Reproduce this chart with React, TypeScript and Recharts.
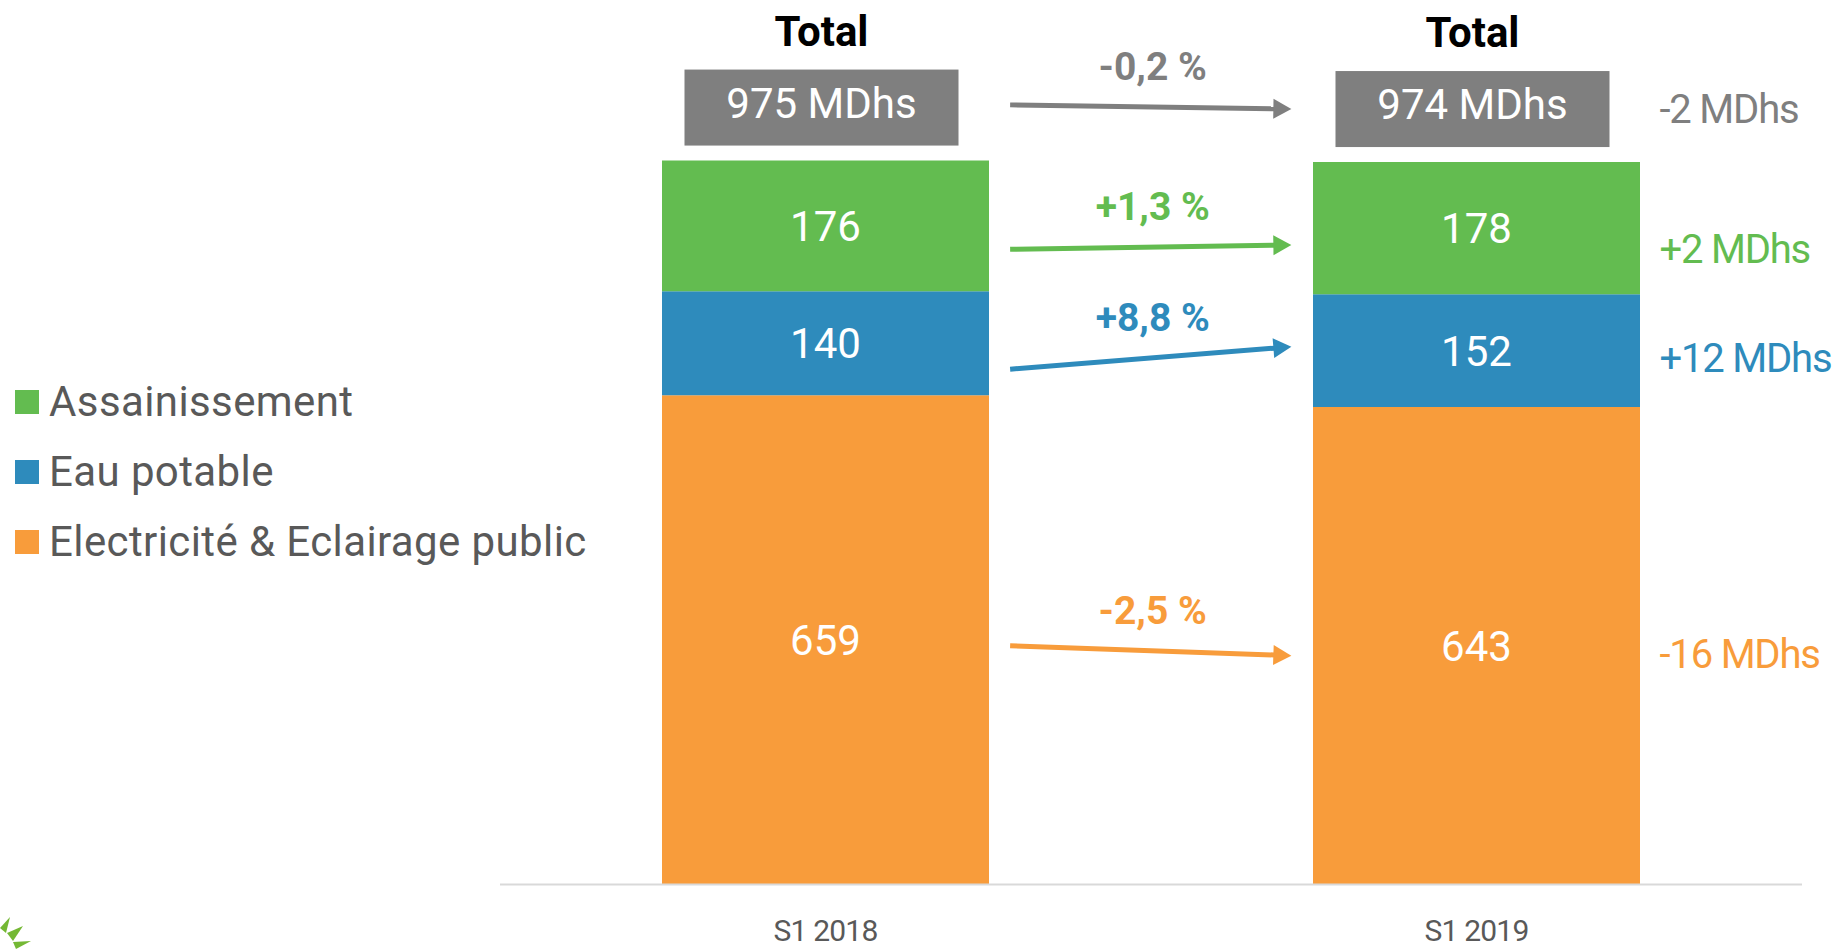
import React from "react";
import {
  Bar,
  BarChart,
  LabelList,
  Legend,
  ReferenceLine,
  XAxis,
  YAxis,
} from "recharts";

// chiffre d'affaires par métier, en MDhs
const categories = ["S1 2018", "S1 2019"];
const electricite = [659, 643];
const eauPotable = [140, 152];
const assainissement = [176, 178];
const totals = [975, 974];

const legendNames = ["Assainissement", "Eau potable", "Electricité & Eclairage public"];

// variations S1 2018 -> S1 2019 : total, assainissement, eau, électricité
const variationPct = ["-0,2 %", "+1,3 %", "+8,8 %", "-2,5 %"];
const variationAbs = ["-2 MDhs", "+2 MDhs", "+12 MDhs", "-16 MDhs"];
// where each arrow starts / ends, read on the value axis (MDhs)
const arrowFrom = [1050, 855.5, 694, 321.6];
const arrowTo = [1044.4, 861.3, 724.3, 308.2];

const GREY = "#7F7F7F";
const GREEN = "#63BC50";
const BLUE = "#2E8BBC";
const ORANGE = "#F89C3B";
const TEXT = "#595959";
const FONT = "Roboto";

const arrowColors = [GREY, GREEN, BLUE, ORANGE];
const legendColors = [GREEN, BLUE, ORANGE];
const deltaDy = [-1, 3, 10, -3];

const data = categories.map((name, i) => ({
  name,
  elec: electricite[i],
  eau: eauPotable[i],
  ass: assainissement[i],
}));

const TotalLabel = (props: any) => {
  const vb = props.viewBox ?? props;
  const { x, y, width } = vb;
  const cx = x + width / 2 - 4;
  return (
    <g>
      <text
        x={cx}
        y={y - 115}
        textAnchor="middle"
        fontFamily={FONT}
        fontWeight={700}
        fontSize={42}
        fill="#000"
      >
        Total
      </text>
      <rect x={cx - 137} y={y - 91} width={274} height={76} fill={GREY} />
      <text
        x={cx}
        y={y - 43}
        textAnchor="middle"
        fontFamily={FONT}
        fontSize={42}
        fill="#fff"
      >
        {`${totals[props.index]} MDhs`}
      </text>
    </g>
  );
};

const makeArrow = (i: number) => (props: any) => {
  const { x1, y1, x2, y2 } = props;
  const color = arrowColors[i];
  const gap = x2 - x1;
  const sx = x1 + gap * 0.2836;
  const ex = x1 + gap * 0.7156;
  const head = 18;
  const ang = Math.atan2(y2 - y1, ex - sx);
  const bx = ex - head * Math.cos(ang);
  const by = y2 - head * Math.sin(ang);
  const nx = -Math.sin(ang) * 10;
  const ny = Math.cos(ang) * 10;
  return (
    <g>
      <line x1={sx} y1={y1} x2={bx + 1} y2={by} stroke={color} strokeWidth={5} />
      <polygon
        points={`${ex},${y2} ${bx + nx},${by + ny} ${bx - nx},${by - ny}`}
        fill={color}
      />
      <text
        x={(sx + ex) / 2 + 2}
        y={(y1 + y2) / 2 - 41 + 14}
        textAnchor="middle"
        fontFamily={FONT}
        fontWeight={700}
        fontSize={39}
        fill={color}
      >
        {variationPct[i]}
      </text>
      <text
        x={x2 + 183}
        y={y2 + deltaDy[i] + 15}
        fontFamily={FONT}
        fontSize={40}
        letterSpacing={-1.2}
        fill={color}
      >
        {variationAbs[i]}
      </text>
    </g>
  );
};

const Tick = ({ x, y, payload }: any) => (
  <text
    x={x}
    y={y + 54}
    textAnchor="middle"
    fontFamily={FONT}
    fontSize={30}
    letterSpacing={-0.8}
    fill={TEXT}
  >
    {payload.value}
  </text>
);

const LegendContent = () => (
  <div style={{ fontFamily: FONT, fontSize: 42, color: TEXT, letterSpacing: 0.4 }}>
    {legendNames.map((name, i) => (
      <div
        key={name}
        style={{ display: "flex", alignItems: "center", height: 70, whiteSpace: "nowrap" }}
      >
        <span
          style={{
            width: 24,
            height: 24,
            flexShrink: 0,
            background: legendColors[i],
            marginRight: 10,
          }}
        />
        <span style={{ lineHeight: "70px" }}>{name}</span>
      </div>
    ))}
  </div>
);

const App = () => {
  return (
    <div style={{ position: "absolute", left: 0, top: 0, width: 1835, height: 949 }}>
      <BarChart
        width={1835}
        height={949}
        data={data}
        margin={{ top: 142, right: 33, bottom: 4.5, left: 500 }}
        style={{ fontFamily: FONT }}
      >
        <XAxis
          dataKey="name"
          height={60}
          axisLine={{ stroke: "#D9D9D9", strokeWidth: 2 }}
          tickLine={false}
          tickSize={0}
          tick={<Tick />}
        />
        <YAxis hide domain={[0, 1000]} />
        <Legend
          layout="horizontal"
          verticalAlign="middle"
          align="center"
          content={<LegendContent />}
          wrapperStyle={{ left: 15, top: 366.5, width: 700 }}
        />
        <Bar dataKey="elec" stackId="a" fill={ORANGE} barSize={327} isAnimationActive={false}>
          <LabelList dataKey="elec" position="center" fill="#fff" fontSize={42} fontFamily={FONT} />
        </Bar>
        <Bar dataKey="eau" stackId="a" fill={BLUE} barSize={327} isAnimationActive={false}>
          <LabelList dataKey="eau" position="center" fill="#fff" fontSize={42} fontFamily={FONT} />
        </Bar>
        <Bar dataKey="ass" stackId="a" fill={GREEN} barSize={327} isAnimationActive={false}>
          <LabelList dataKey="ass" position="center" fill="#fff" fontSize={42} fontFamily={FONT} />
          <LabelList dataKey="ass" content={<TotalLabel />} />
        </Bar>
        {arrowFrom.map((v, i) => (
          <ReferenceLine
            key={i}
            ifOverflow="visible"
            segment={[
              { x: categories[0], y: v },
              { x: categories[1], y: arrowTo[i] },
            ]}
            shape={makeArrow(i)}
          />
        ))}
      </BarChart>
      <svg
        width={40}
        height={39}
        style={{ position: "absolute", left: 0, top: 910 }}
      >
        <polygon points="0,18 10,7 6,23" fill="#74B834" />
        <polygon points="7,23 23,16 13,31" fill="#74B834" />
        <polygon points="13,32 31,31 16,39" fill="#74B834" />
      </svg>
    </div>
  );
};

export default App;
